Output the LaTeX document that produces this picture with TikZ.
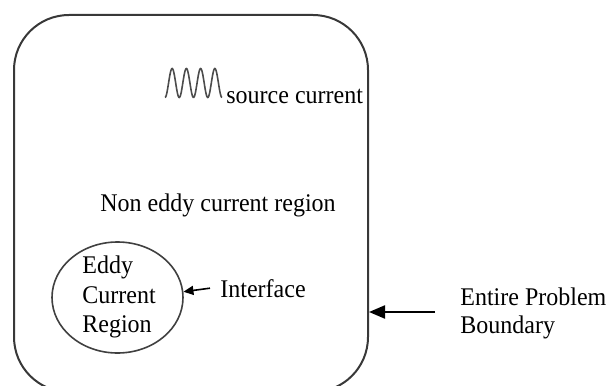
\documentclass[tikz,border=0pt]{standalone}
\usepackage{fontspec}
\setmainfont{Liberation Serif}
\usetikzlibrary{shapes.geometric,arrows.meta}
\tikzset{
  lbl/.style={inner sep=0pt, anchor=base west, font=\fontsize{12}{14.4}\selectfont, text=black, yscale=1.06},
  regionbox/.style={draw=black!78, line width=1pt, rounded corners=27.5pt, inner sep=0pt},
  eddybox/.style={draw=black!75, line width=0.8pt, ellipse, inner sep=0pt},
  bigarrow/.style={draw=black, line width=1.1pt, -{Triangle[length=8pt,width=6.5pt]}},
  smallarrow/.style={draw=black, line width=0.8pt, -{Triangle[length=5pt,width=4.5pt]}},
  wave/.style={draw=black!70, line width=0.8pt}
}
\begin{document}
\begin{tikzpicture}[x=0.5pt,y=-0.5pt]
\useasboundingbox (0,0) rectangle (608,385);
\begin{scope}
\clip (0,0) rectangle (608,385);
\node[regionbox, minimum width=177pt, minimum height=188.5pt] (boundary) at (191,203.5) {};
\end{scope}
% source current wave
\draw[wave] plot[smooth, samples=120, domain=0:57, variable=\t] ({165+\t},{83+14.5*cos(25.263*\t)});
\node[lbl] (src) at (226,103) {source current};
\node[lbl] (nonedd) at (100,211) {Non eddy current region};
% eddy current region
\node[eddybox, minimum width=65.5pt, minimum height=55.5pt] (eddy) at (117.5,297.5) {};
\node[lbl] (eddy1) at (82,273) {Eddy};
\node[lbl] (eddy2) at (82,303) {Current};
\node[lbl] (eddy3) at (82,332) {Region};
\node[lbl] (iface) at (220,297) {Interface};
\draw[smallarrow] ([xshift=-5pt]iface.west) -- (eddy.5);
% entire problem boundary
\node[lbl] (ent1) at (460,305) {Entire Problem};
\node[lbl] (ent2) at (460,333) {Boundary};
\coordinate (entfree) at (435,312);
\draw[bigarrow] (entfree) -- (boundary.east |- entfree);
\end{tikzpicture}
\end{document}
